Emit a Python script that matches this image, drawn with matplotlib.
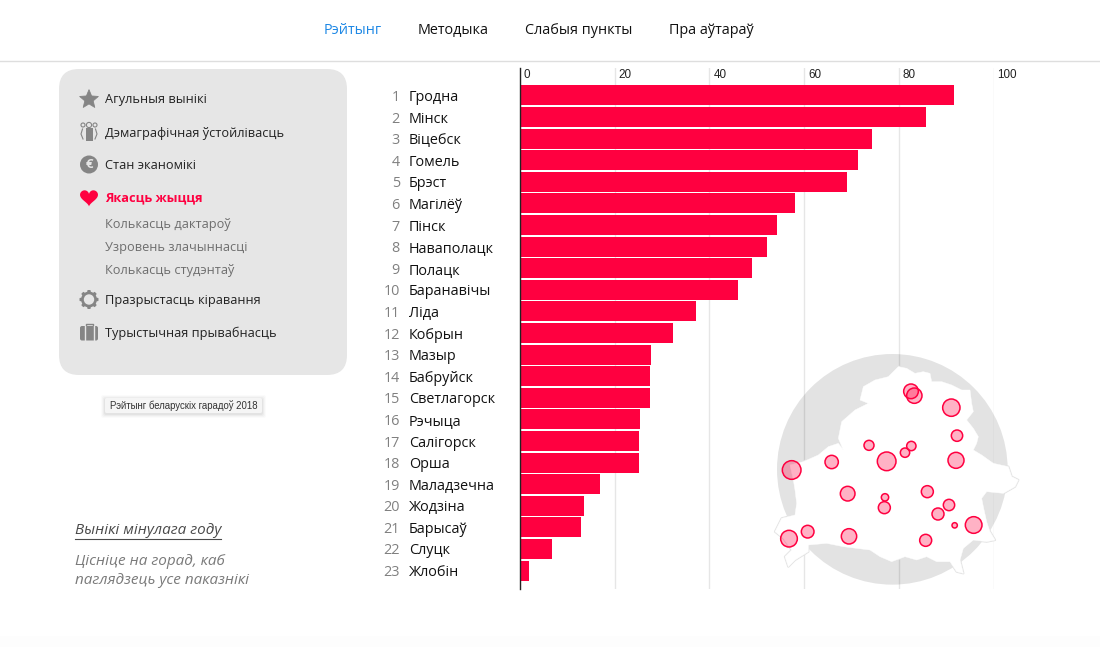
import numpy as np
import matplotlib
matplotlib.use("Agg")
import matplotlib.pyplot as plt
from matplotlib.patches import FancyBboxPatch, Circle, Polygon, Rectangle
from matplotlib.transforms import ScaledTranslation

W, H = 1100, 647
RED = "#ff0040"

cities = ["Гродна", "Мінск", "Віцебск", "Гомель", "Брэст", "Магілёў", "Пінск", "Наваполацк",
          "Полацк", "Баранавічы", "Ліда", "Кобрын", "Мазыр", "Бабруйск", "Светлагорск", "Рэчыца",
          "Салігорск", "Орша", "Маладзечна", "Жодзіна", "Барысаў", "Слуцк", "Жлобін"]
values = [91.6, 85.7, 74.3, 71.3, 69.0, 58.0, 54.3, 52.2, 49.0, 46.1, 37.1, 32.3, 27.7,
          27.4, 27.4, 25.4, 25.1, 25.1, 16.9, 13.5, 12.9, 6.7, 1.8]
x_ticks = [0, 20, 40, 60, 80, 100]

nav_items = ["Рэйтынг", "Методыка", "Слабыя пункты", "Пра аўтараў"]
menu_top = ["Агульныя вынікі", "Дэмаграфічная ўстойлівасць", "Стан эканомікі"]
menu_active = "Якасць жыцця"
menu_sub = ["Колькасць дактароў", "Узровень злачыннасці", "Колькасць студэнтаў"]
menu_bottom = ["Празрыстасць кіравання", "Турыстычная прывабнасць"]

# map bubbles, in map units
bubble_x = [453, 463, 574, 591, 327, 454, 435, 380, 588, 215, 95, 263, 502, 375, 373, 567, 534, 584, 641, 143, 87, 267, 497]
bubble_y = [154, 167, 203, 287, 316, 318, 338, 364, 361, 366, 390, 461, 455, 472, 503, 495, 522, 556, 555, 575, 596, 589, 601]
bubble_r = [22, 23, 26, 17, 15, 14, 14, 28, 24, 20, 28, 22, 18, 11, 18, 17, 18, 8, 25, 19, 25, 23, 18]
country_outline = [(415,80),(440,85),(465,100),(490,95),(510,100),(515,125),(545,125),(575,135),(605,150),(630,150),
    (635,190),(640,215),(620,240),(640,265),(655,290),(650,310),(640,330),(665,345),(700,370),(745,380),(755,410),
    (775,420),(765,440),(730,460),(680,455),(665,475),(670,500),(680,545),(690,575),(705,600),(680,605),(640,600),
    (610,625),(600,660),(610,700),(590,695),(570,665),(530,665),(500,650),(470,660),(435,650),(395,665),(360,650),
    (330,630),(290,625),(250,620),(200,610),(145,615),(145,635),(105,660),(85,680),(75,650),(95,630),(70,595),(45,575),
    (65,535),(105,525),(110,490),(105,450),(100,420),(90,375),(130,365),(175,345),(205,320),(235,310),(250,330),(235,295),
    (245,245),(285,210),(325,190),(300,180),(310,140),(345,120),(385,110)]

plt.rcParams["font.family"] = ["Open Sans", "DejaVu Sans"]
fig = plt.figure(figsize=(W / 100, H / 100), dpi=100, facecolor="white")
pt = 0.72

def axes_px(x0, y0, x1, y1, **kw):
    return fig.add_axes([x0 / W, 1 - y1 / H, (x1 - x0) / W, (y1 - y0) / H], **kw)

# ---------- page furniture
ui = axes_px(0, 0, W, H)
ui.set_xlim(0, W); ui.set_ylim(H, 0); ui.axis("off")
ui.add_patch(Rectangle((0, 636), W, 11, fc="#fdfdfd", ec="none"))
ui.plot([0, W], [61, 61], color="#dedede", lw=1)

for s, x, c in zip(nav_items, [353, 453, 578.5, 711], ["#1e88e5", "#111111", "#111111", "#111111"]):
    ui.text(x, 30.5, s, ha="center", va="center", fontsize=14.4 * pt, color=c)

ui.add_patch(FancyBboxPatch((59 + 20, 69 + 20), 248, 266, boxstyle="round,pad=20,rounding_size=20",
                            fc="#e6e6e6", ec="none"))

ICON = "#858585"
TX = 105
MENU = 12.8
for s, y in zip(menu_top, [100, 133, 165.5]):
    ui.text(TX, y, s, ha="left", va="center", fontsize=MENU * pt, color="#222222")
ui.text(TX, 198, menu_active, ha="left", va="center", fontsize=MENU * pt, color=RED, fontweight="bold")
for s, y in zip(menu_sub, [224.5, 247.5, 270.5]):
    ui.text(TX, y, s, ha="left", va="center", fontsize=MENU * pt, color="#6e6e6e")
for s, y in zip(menu_bottom, [300.5, 333.5]):
    ui.text(TX, y, s, ha="left", va="center", fontsize=MENU * pt, color="#222222")

# icons
sa = np.arange(10) * np.pi / 5 - np.pi / 2
sr = np.where(np.arange(10) % 2 == 0, 9.8, 4.4)
ui.add_patch(Polygon(np.c_[89 + sr * np.cos(sa), 99.5 + sr * np.sin(sa)], fc=ICON, ec=ICON, lw=0.6, joinstyle="round"))
ui.add_patch(Rectangle((85.5, 128), 7, 13, fc=ICON, ec="none"))
ui.add_patch(Circle((89, 125), 2.6, fc="none", ec=ICON, lw=0.8))
ui.add_patch(Circle((83, 125), 2, fc="none", ec=ICON, lw=0.8))
ui.add_patch(Circle((95, 125), 2, fc="none", ec=ICON, lw=0.8))
ui.plot([82.5, 81, 83], [129, 134, 139], color=ICON, lw=0.8)
ui.plot([95.5, 97, 95], [129, 134, 139], color=ICON, lw=0.8)
ui.add_patch(Circle((89, 164.5), 9, fc=ICON, ec="none"))
ui.text(89, 164.5, "€", ha="center", va="center", fontsize=9.5, color="#e6e6e6", fontweight="bold")
t = np.linspace(0, 2 * np.pi, 200)
ui.add_patch(Polygon(np.c_[89 + 0.56 * 16 * np.sin(t) ** 3,
                           197 - 0.56 * (13 * np.cos(t) - 5 * np.cos(2 * t) - 2 * np.cos(3 * t) - np.cos(4 * t))],
                     fc=RED, ec="none"))
ang = np.linspace(0, 2 * np.pi, 81)
rad = 9.5 - 1.6 * (np.cos(8 * ang) < 0)
ui.add_patch(Polygon(np.c_[89 + rad * np.cos(ang), 299.5 + rad * np.sin(ang)], fc=ICON, ec="none"))
ui.add_patch(Circle((89, 299.5), 5.2, fc="#e6e6e6", ec="none"))
ui.add_patch(FancyBboxPatch((80, 326), 18, 14.5, boxstyle="round,pad=0,rounding_size=2", fc=ICON, ec="none"))
ui.plot([85.5, 85.5, 92.5, 92.5], [326, 324, 324, 326], color=ICON, lw=1)
for x in (84.5, 93.5):
    ui.plot([x, x], [326, 341], color="#e6e6e6", lw=1)

# tooltip
for g, a in zip([4, 3, 2, 1], [0.015, 0.025, 0.03, 0.04]):
    ui.add_patch(FancyBboxPatch((105 - g, 398 - g + 1), 157 + 2 * g, 15 + 2 * g,
                                boxstyle="round,pad=0,rounding_size=2", fc="black", ec="none", alpha=a))
ui.add_patch(FancyBboxPatch((105, 398), 157, 15, boxstyle="round,pad=0,rounding_size=1.5", fc="#f5f5f5", ec="none"))
ui.text(183.5, 405.5, "Рэйтынг беларускіх гарадоў 2018", ha="center", va="center",
        fontsize=9.7 * pt, color="#333333", family=["Liberation Sans", "DejaVu Sans"])

# bottom-left note
ui.text(75, 531, "Вынікі мінулага году", ha="left", va="center", fontsize=15.2 * pt,
        style="italic", color="#4a4a4a")
ui.plot([75, 221], [538.5, 538.5], color="#4a4a4a", lw=0.8)
ui.text(75, 561.5, "Цісніце на горад, каб", ha="left", va="center", fontsize=15.2 * pt, style="italic", color="#7a7a7a")
ui.text(75, 581, "паглядзець усе паказнікі", ha="left", va="center", fontsize=15.2 * pt, style="italic", color="#7a7a7a")

# ---------- bar chart
ax = axes_px(520, 68, 993.5, 589)
ax.patch.set_alpha(0)
ax.set_xlim(0, 100)
STEP, C0 = 21.6, 95.4
ax.set_ylim((589 - C0) / STEP, (68 - C0) / STEP)
pos = np.arange(len(cities))
ax.barh(pos, values, height=0.93, color=RED, zorder=3)
for s in ["top", "right", "bottom"]:
    ax.spines[s].set_visible(False)
ax.spines["left"].set_color("#222222"); ax.spines["left"].set_linewidth(1); ax.spines["left"].set_zorder(4)
ax.set_xticks(x_ticks)
ax.xaxis.tick_top()
ax.grid(axis="x", color="#e6e6e6", lw=1, zorder=0)
ax.tick_params(axis="x", length=0, pad=-9)
ax.set_xticklabels([str(v) for v in x_ticks], fontsize=11.6 * pt, color="#222222",
                   family=["Liberation Sans", "DejaVu Sans"], ha="left", va="bottom")
off = ScaledTranslation(4 / 100, 0, fig.dpi_scale_trans)
for l in ax.get_xticklabels():
    l.set_transform(l.get_transform() + off)
ax.set_yticks(pos)
ax.set_yticklabels(cities, fontsize=14.4 * pt, color="#111111", ha="left")
ax.tick_params(axis="y", length=0, pad=111 * pt)
for i in pos:
    ax.annotate(str(i + 1), xy=(0, i), xycoords=ax.get_yaxis_transform(), xytext=(400 - 520, 0),
                textcoords="offset pixels", ha="right", va="center_baseline", fontsize=14.4 * pt, color="#808080")

# ---------- map inset
m = axes_px(760, 340, 1030, 600)
m.set_xlim(0, 810); m.set_ylim(780, 0); m.axis("off"); m.patch.set_alpha(0)
m.add_patch(Circle((397, 388), 346, fc="black", ec="none", alpha=0.11))
m.add_patch(Polygon(country_outline, closed=True, fc="white", ec="#e3e3e3", lw=1.6, joinstyle="round", clip_on=False))
m.add_patch(Polygon(country_outline, closed=True, fc="white", ec="white", lw=0.3, clip_on=False))
size = [(2 * r / 3 * pt) ** 2 for r in bubble_r]
m.scatter(bubble_x, bubble_y, s=size, facecolor=(1, 0, 0.25, 0.3), edgecolor=RED, linewidth=1.1)

fig.savefig("out.png", dpi=100)
